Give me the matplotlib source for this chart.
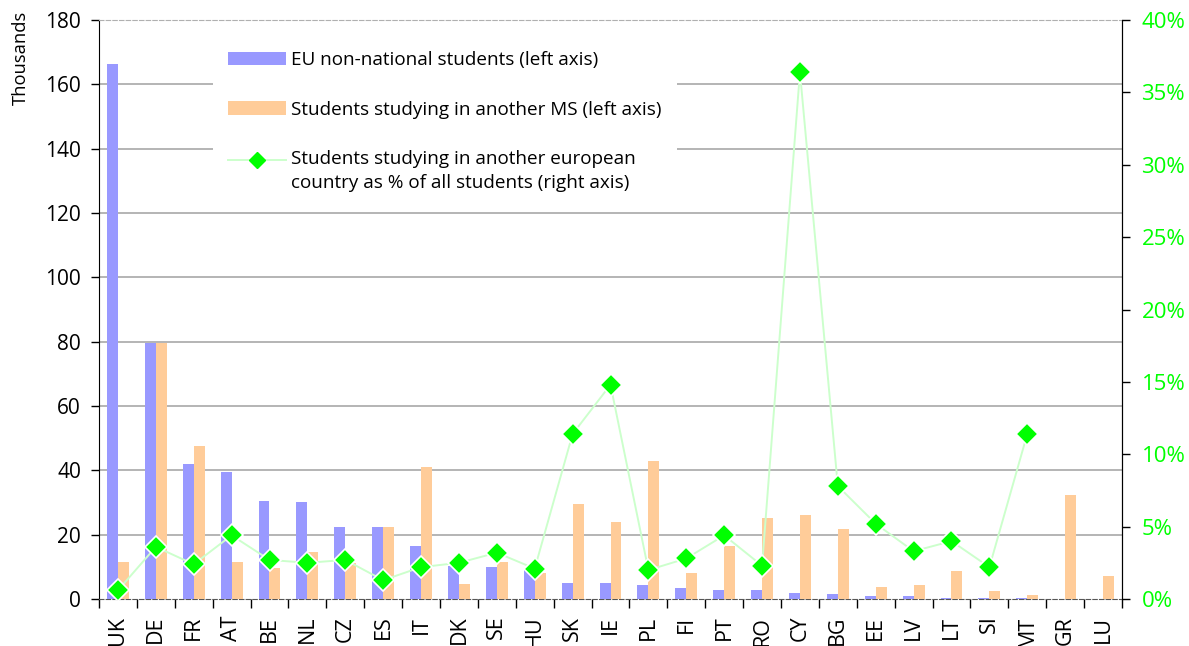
import numpy as np
import matplotlib
matplotlib.use("Agg")
import matplotlib.pyplot as plt
from matplotlib.lines import Line2D
from matplotlib.patches import Patch
from matplotlib.legend_handler import HandlerLine2D

plt.rcParams['font.family'] = ['Open Sans', 'DejaVu Sans']

countries = ["UK", "DE", "FR", "AT", "BE", "NL", "CZ", "ES", "IT", "DK", "SE", "HU",
             "SK", "IE", "PL", "FI", "PT", "RO", "CY", "BG", "EE", "LV", "LT", "SI",
             "MT", "GR", "LU"]

# thousands of students
eu_non_national = [166.3, 79.5, 42.0, 39.5, 30.5, 30.3, 22.5, 22.5, 16.5, 10.4, 10.0, 9.3,
                   5.0, 5.0, 4.3, 3.4, 2.8, 2.8, 1.9, 1.6, 0.8, 0.8, 0.3, 0.3,
                   0.2, 0.0, 0.0]
studying_other_ms = [11.5, 79.5, 47.5, 11.5, 9.5, 14.5, 11.2, 22.3, 41.0, 4.7, 11.5, 8.1,
                     29.5, 23.9, 42.9, 8.1, 16.5, 25.2, 26.1, 21.8, 3.7, 4.3, 8.7, 2.5,
                     1.2, 32.3, 7.1]
# percent of all students
share_abroad_pct = [0.6, 3.6, 2.4, 4.4, 2.7, 2.5, 2.7, 1.3, 2.2, 2.5, 3.2, 2.1,
                    11.4, 14.8, 2.0, 2.8, 4.4, 2.3, 36.4, 7.8, 5.2, 3.3, 4.0, 2.2,
                    11.4, np.nan, np.nan]

left_ticks = list(range(0, 181, 20))
right_ticks = list(range(0, 41, 5))

BLUE = "#9999ff"
ORANGE = "#ffcc99"
GREEN = "#00ff00"
LINE_GREEN = "#ccffcc"


class TopAlignedLineHandler(HandlerLine2D):
    """Line handle placed level with the first line of a two-line label."""

    def __init__(self, shift, **kw):
        super().__init__(**kw)
        self.shift = shift

    def create_artists(self, legend, orig_handle, xdescent, ydescent, width, height,
                       fontsize, trans):
        return super().create_artists(legend, orig_handle, xdescent,
                                      ydescent - 2 * self.shift, width, height,
                                      fontsize, trans)


fig = plt.figure(figsize=(11.89, 6.46), dpi=100)
ax = fig.add_axes([99 / 1189, 1 - 599 / 646, (1122 - 99) / 1189, (599 - 20) / 646])

x = np.arange(len(countries))
w = 0.29
ax.bar(x - w / 2, eu_non_national, width=w, color=BLUE, zorder=3)
ax.bar(x + w / 2, studying_other_ms, width=w, color=ORANGE, zorder=3)

ax.set_xlim(-0.5, len(countries) - 0.5)
ax.set_ylim(0, 180)
ax.set_yticks(left_ticks)
ax.tick_params(axis='y', direction='out', length=6, width=1, labelsize=15, pad=7)
for yv in left_ticks[1:-1]:
    ax.axhline(yv, color="#b4b4b4", lw=1.4, zorder=1)

ax.set_xticks(x)
ax.set_xticklabels(countries, rotation=90, fontsize=15.5)
ax.tick_params(axis='x', which='major', length=0, pad=12)
ax.set_xticks(np.arange(-0.5, len(countries), 1), minor=True)
ax.tick_params(axis='x', which='minor', direction='out', length=6.5, width=1, color='black')

for side in ("left", "right"):
    ax.spines[side].set_color("black")
ax.spines["top"].set_color("#b0b0b0")
ax.spines["top"].set_linestyle((0, (4, 2)))
ax.spines["bottom"].set_color("#555555")
ax.spines["bottom"].set_linestyle((0, (4, 2)))

ax2 = ax.twinx()
ax2.set_ylim(0, 40)
ax2.set_yticks(right_ticks)
ax2.set_yticklabels([f"{t}%" for t in right_ticks])
ax2.tick_params(axis='y', direction='out', length=6, width=1, labelsize=16,
                labelcolor=GREEN, pad=8)
ax2.spines["right"].set_color("black")
ax2.spines["top"].set_visible(False)
ax2.spines["left"].set_visible(False)
ax2.spines["bottom"].set_visible(False)
ax2.plot(x, share_abroad_pct, color=LINE_GREEN, lw=1.4, marker='D', markersize=11,
         markerfacecolor=GREEN, markeredgecolor='white', markeredgewidth=1.2, zorder=4)

fig.text(21 / 1189, 1 - 11 / 646, "Thousands", rotation=90, ha='center', va='top',
         fontsize=13.2)

pct_handle = Line2D([0], [0], color=LINE_GREEN, lw=1.4, marker='D', markersize=8,
                    markerfacecolor=GREEN, markeredgecolor=GREEN)
handles = [
    Patch(facecolor=BLUE, edgecolor='none'),
    Patch(facecolor=ORANGE, edgecolor='none'),
    pct_handle,
]
labels = [
    "EU non-national students (left axis)",
    "Students studying in another MS (left axis)",
    "Students studying in another european\ncountry as % of all students (right axis)",
]
leg = ax2.legend(handles, labels, loc='upper left',
                 bbox_to_anchor=(213 / 1189, 1 - 36 / 646), bbox_transform=fig.transFigure,
                 fontsize=13.6, frameon=True, fancybox=False, edgecolor='none',
                 facecolor='white', framealpha=1, handlelength=3.07, handleheight=0.75,
                 handletextpad=0.26, labelspacing=1.67, borderpad=0.8, borderaxespad=0,
                 handler_map={pct_handle: TopAlignedLineHandler(shift=8.3)})
for t in leg.get_texts():
    t.set_linespacing(1.4)
leg.set_zorder(10)

fig.savefig("out.png", dpi=100)
